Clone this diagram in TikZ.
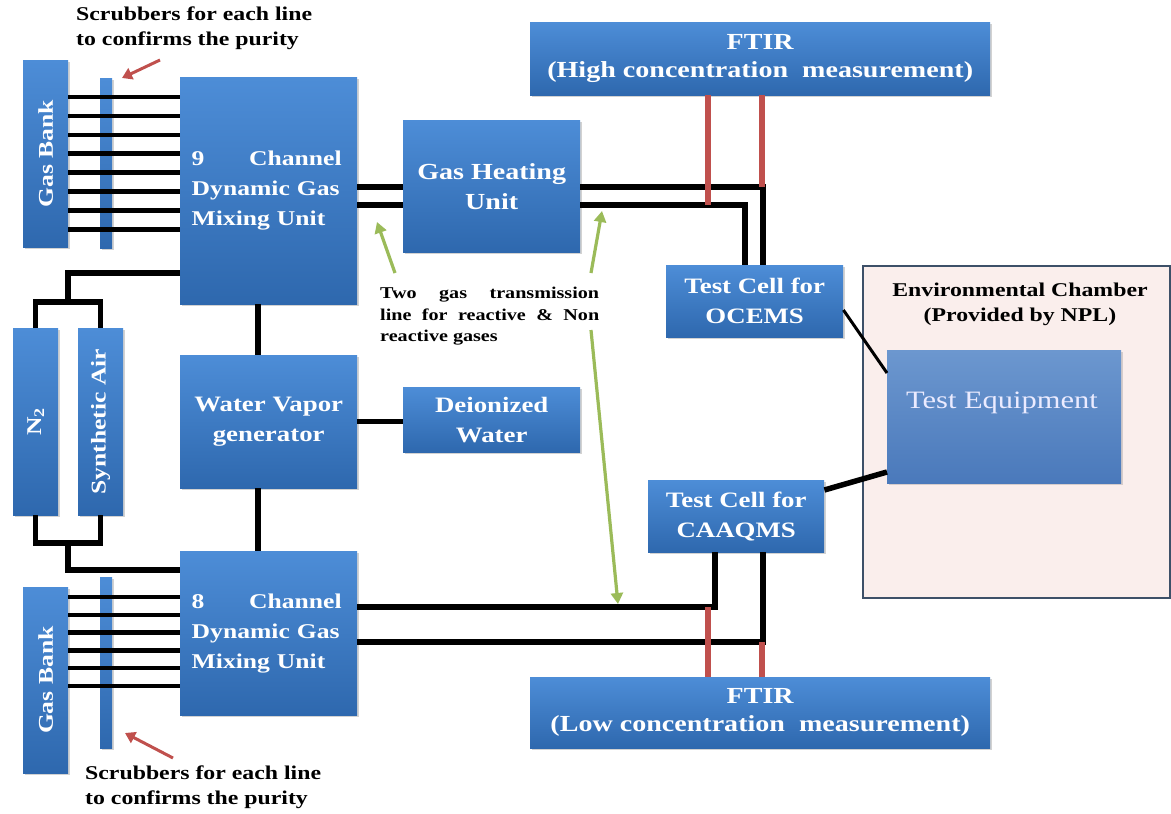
\documentclass[tikz,border=0pt]{standalone}
\usepackage{fontspec}
\setmainfont[FakeStretch=1.22]{Liberation Serif}
\usetikzlibrary{shadows,arrows.meta,calc}
\definecolor{bxtop}{HTML}{4D8DD7}
\definecolor{bxbot}{HTML}{2E68AE}
\definecolor{tetop}{HTML}{6C97CF}
\definecolor{tebot}{HTML}{4A79BB}
\definecolor{redln}{HTML}{C0504D}
\definecolor{grnln}{HTML}{9BBB59}
\definecolor{envfill}{HTML}{FAEEEC}
\definecolor{envdraw}{HTML}{3D5068}
\begin{document}
\begin{tikzpicture}[x=1pt,y=-1pt,
  box/.style={top color=bxtop, bottom color=bxbot, draw=none,
    drop shadow={shadow xshift=1.5pt, shadow yshift=-2pt, opacity=.35},
    text=white, anchor=north west, inner sep=0pt, align=center,
    font=\bfseries\fontsize{22}{30}\selectfont},
  chbox/.style={box, minimum width=177pt, text width=154pt, align=left,
    font=\bfseries\fontsize{21}{30}\selectfont},
  pipe/.style={line width=5.5pt, black},
  gasline/.style={line width=4.5pt, black},
  redpipe/.style={line width=5.5pt, redln},
  redarrow/.style={line width=3pt, redln, -{Triangle[length=10pt,width=12pt]}},
  grnarrow/.style={line width=3.2pt, grnln, -{Triangle[length=11pt,width=12pt]}},
  note/.style={text=black, font=\bfseries\fontsize{19.5}{25}\selectfont, inner sep=0pt},
]
\useasboundingbox (0,0) rectangle (1171,814);
\fill[white] (0,0) rectangle (1171,814);

% environmental chamber
\node[draw=envdraw, line width=2pt, fill=envfill, anchor=north west, minimum width=307pt, minimum height=332pt, inner sep=0pt] (env) at (862,265) {};
\node[note, align=center] (envt) at (1020,304) {Environmental Chamber\\(Provided by NPL)};

% boxes
\node[box, minimum width=45pt, minimum height=187pt, font=\bfseries\fontsize{21}{26}\selectfont] (gbA) at (23,60) {\rotatebox{90}{Gas Bank}};
\node[box, minimum width=12pt, minimum height=170pt] (scA) at (100,78) {};
\node[chbox, minimum height=227pt] (ch9) at (180,77)
  {\makebox[150pt]{9\hfill Channel}\\Dynamic Gas\\Mixing Unit};
\node[box, minimum width=177pt, minimum height=132pt, font=\bfseries\fontsize{23}{30}\selectfont] (ghu) at (403,120) {Gas Heating\\Unit};
\node[box, minimum width=460pt, minimum height=73pt, font=\bfseries\fontsize{23}{28}\selectfont] (ftirH) at (530,22) {FTIR\\(High concentration~ measurement)};
\node[box, minimum width=177pt, minimum height=72pt] (ocems) at (666,265) {Test Cell for\\OCEMS};
\node[top color=tetop, bottom color=tebot, draw=none, anchor=north west, inner sep=0pt,
  drop shadow={shadow xshift=1.5pt, shadow yshift=-2pt, opacity=.3},
  minimum width=234pt, minimum height=133pt] (te) at (887,350) {};
\node[text=white!92!blue, font=\fontsize{25}{28}\selectfont, inner sep=0pt] (tet) at (1002,403) {Test Equipment};
\node[box, minimum width=45pt, minimum height=187pt, font=\bfseries\fontsize{21}{26}\selectfont] (n2) at (13,328) {\rotatebox{90}{N\textsubscript{2}}};
\node[box, minimum width=45pt, minimum height=187pt, font=\bfseries\fontsize{21}{26}\selectfont] (sa) at (78,328) {\rotatebox{90}{Synthetic Air}};
\node[box, minimum width=177pt, minimum height=133pt] (wv) at (180,355) {Water Vapor\\generator};
\node[box, minimum width=177pt, minimum height=65pt] (di) at (403,387) {Deionized\\Water};
\node[box, minimum width=176pt, minimum height=72pt] (caaqms) at (648,480) {Test Cell for\\CAAQMS};
\node[chbox, minimum height=164pt] (ch8) at (180,551)
  {\makebox[150pt]{8\hfill Channel}\\Dynamic Gas\\Mixing Unit};
\node[box, minimum width=45pt, minimum height=186pt, font=\bfseries\fontsize{21}{26}\selectfont] (gbB) at (23,587) {\rotatebox{90}{Gas Bank}};
\node[box, minimum width=12pt, minimum height=171pt] (scB) at (100,577) {};
\node[box, minimum width=460pt, minimum height=71pt, font=\bfseries\fontsize{23}{28}\selectfont] (ftirL) at (530,677) {FTIR\\(Low concentration~ measurement)};

% notes
\node[note, align=left, anchor=north west] (scrT) at (76,7) {Scrubbers for each line\\to confirms the purity};
\node[note, align=left, anchor=north west] (scrB) at (85,766) {Scrubbers for each line\\to confirms the purity};
\node[note, anchor=north west, align=left, font=\bfseries\fontsize{16.5}{21.5}\selectfont] (two) at (380,287)
  {\makebox[219pt]{Two\hfill gas\hfill transmission}\\
   \makebox[219pt]{line\hfill for\hfill reactive\hfill \&\hfill Non}\\
   reactive gases};

% gas bank lines
\foreach \i in {0,...,7}{
  \coordinate (ya\i) at (0,{97+18.9*\i});
  \draw[gasline] (gbA.east |- ya\i) -- (ch9.west |- ya\i);
}
\foreach \i in {0,...,5}{
  \coordinate (yb\i) at (0,{597+17.8*\i});
  \draw[gasline] (gbB.east |- yb\i) -- (ch8.west |- yb\i);
}

% N2 / synthetic air manifold
\coordinate (y273) at (0,273);
\coordinate (j1) at (68,302);
\coordinate (j2) at (68,543);
\coordinate (y570) at (0,570);
\draw[pipe] (ch9.west |- y273) -| (j1);
\draw[pipe] (n2.north) |- (j1) -| (sa.north);
\draw[pipe] (n2.south) |- (j2) -| (sa.south);
\draw[pipe] (j2) |- (ch8.west |- y570);

% vertical chain
\coordinate (xv) at (258,0);
\draw[pipe] (xv |- ch9.south) -- (xv |- wv.north);
\draw[pipe] (xv |- wv.south) -- (xv |- ch8.north);
\draw[pipe] (wv.east) -- (wv.east -| di.west);

% transmission lines top
\coordinate (hU) at (0,187);
\coordinate (hL) at (0,205);
\coordinate (vU) at (763,0);
\coordinate (vL) at (745,0);
\draw[pipe] (ch9.east |- hU) -- (ghu.west |- hU);
\draw[pipe] (ch9.east |- hL) -- (ghu.west |- hL);
\draw[pipe] (ghu.east |- hU) -| (vU |- ocems.north);
\draw[pipe] (ghu.east |- hL) -| (vL |- ocems.north);
\coordinate (rA) at (708,0);
\coordinate (rB) at (762,0);
\draw[redpipe] (rA |- ftirH.south) -- (rA |- hL);
\draw[redpipe] (rB |- ftirH.south) -- (rB |- hU);

% transmission lines bottom
\coordinate (lU) at (0,607);
\coordinate (lL) at (0,642);
\coordinate (cA) at (715,0);
\coordinate (cB) at (763,0);
\draw[pipe] (ch8.east |- lU) -| (cA |- caaqms.south);
\draw[pipe] (ch8.east |- lL) -| (cB |- caaqms.south);
\draw[redpipe] (rA |- ftirL.north) -- (rA |- lU);
\draw[redpipe] (rB |- ftirL.north) -- (rB |- lL);

% test cells to test equipment
\coordinate (o1) at (0,310);
\coordinate (o2) at (0,373);
\coordinate (c1) at (0,490);
\coordinate (c2) at (0,472);
\draw[line width=3pt] (ocems.east |- o1) -- (te.west |- o2);
\draw[pipe] (caaqms.east |- c1) -- (te.west |- c2);

% red arrows
\coordinate (raT) at (160,60);
\coordinate (raTh) at (122,78);
\coordinate (raB) at (173,758);
\coordinate (raBh) at (125,733);
\draw[redarrow] (raT) -- (raTh);
\draw[redarrow] (raB) -- (raBh);

% green arrows
\coordinate (g1) at (395,273);
\coordinate (g1h) at (377,222);
\coordinate (g2) at (591,273);
\coordinate (g2h) at (602,211);
\coordinate (g3) at (591,330);
\coordinate (g3h) at (618,604);
\draw[grnarrow] (g1) -- (g1h);
\draw[grnarrow] (g2) -- (g2h);
\draw[grnarrow] (g3) -- (g3h);
\end{tikzpicture}
\end{document}
